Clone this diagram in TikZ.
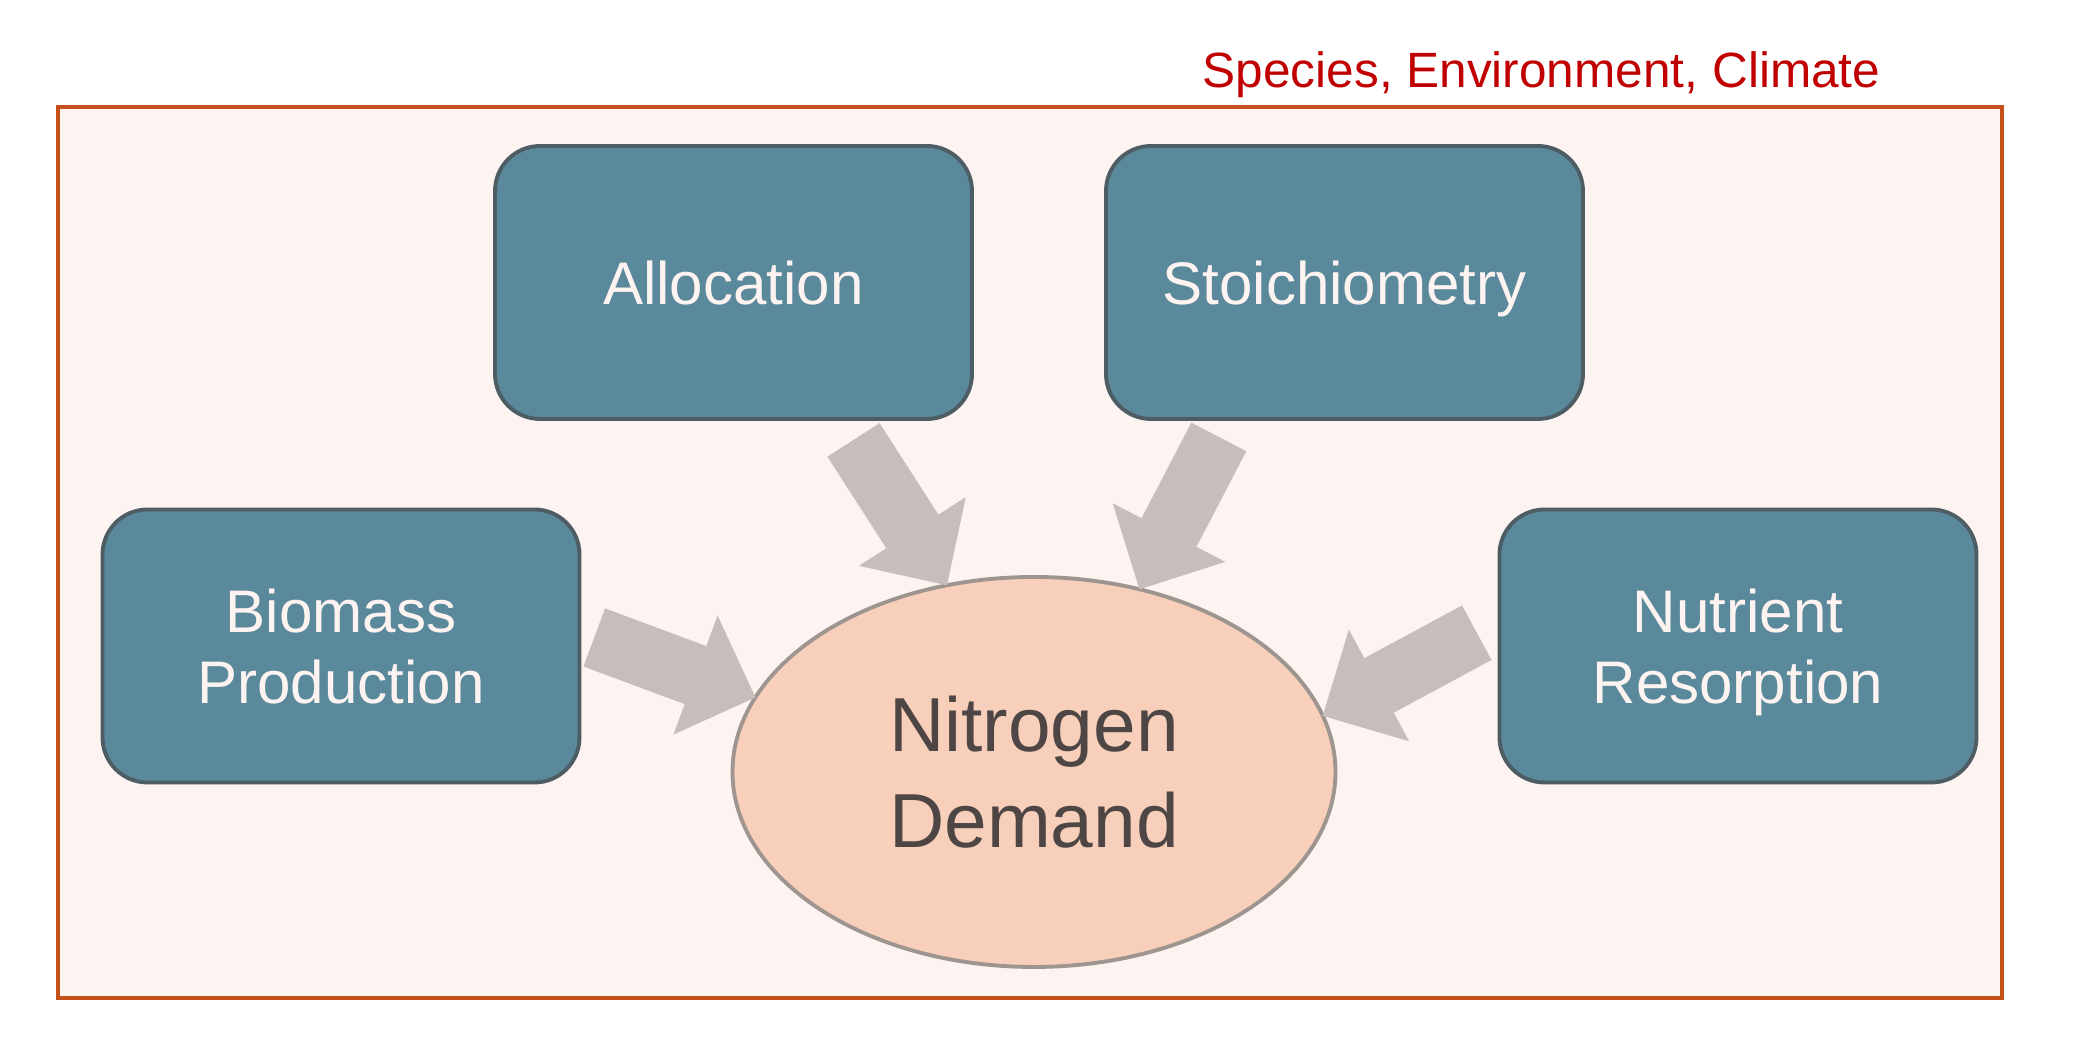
\documentclass[tikz,border=0pt]{standalone}
\usepackage{fontspec}
\setmainfont{Liberation Sans}
\usepackage{tikz}
\usetikzlibrary{arrows.meta, positioning, calc, shapes.geometric}
\usepackage{xcolor}
\definecolor{framered}{HTML}{C5501A}
\definecolor{framefill}{HTML}{FDF4F1}
\definecolor{titlered}{HTML}{C00000}
\definecolor{boxteal}{HTML}{5B899C}
\definecolor{boxedge}{HTML}{4E5C64}
\definecolor{boxtext}{HTML}{FDF3F0}
\definecolor{peach}{HTML}{F7CFBA}
\definecolor{peachedge}{HTML}{9E9490}
\definecolor{demandtext}{HTML}{4D4644}
\definecolor{arrowgray}{HTML}{C7BEBB}

\begin{document}
\begin{tikzpicture}[
    box/.style={draw=boxedge, line width=1.1pt, fill=boxteal, rounded corners=0.45cm,
                minimum width=4.77cm, minimum height=2.73cm, align=center,
                text=boxtext, text depth=0pt, font=\fontsize{17.1}{20.2}\selectfont},
    bigarr/.style={draw=arrowgray, line width=0.62cm,
                   -{Triangle[length=0.64cm, width=1.27cm, line width=0pt]}}
  ]
    \useasboundingbox (0,0) rectangle (21,10.37);
    \node[draw=framered, line width=1.3pt, fill=framefill, minimum width=19.44cm,
          minimum height=8.91cm, inner sep=0pt, outer sep=0pt] (frame) at (10.30, 4.845) {};
    \node[anchor=base east, inner sep=0pt, text=titlered, font=\fontsize{14.1}{16}\selectfont]
      (title) at (18.81, 9.49) {Species, Environment, Climate};
    % factors
    \node[box] (alloc) at (7.335, 7.545) {Allocation};
    \node[box] (stoich) at (13.445, 7.545) {Stoichiometry};
    \node[box] (biomass) at (3.41, 3.91) {Biomass\\Production};
    \node[box] (nutrient) at (17.38, 3.91) {Nutrient\\Resorption};
    \node[ellipse, draw=peachedge, line width=1.1pt, fill=peach, minimum width=6.03cm,
          minimum height=3.90cm, inner sep=0pt, outer sep=0pt, align=center, text=demandtext,
          text depth=0pt, font=\fontsize{21.8}{27.3}\selectfont]
      (demand) at (10.34, 2.65) {Nitrogen\\Demand};
    \draw[bigarr] ($(alloc.south)+(1.20,-0.19)$) -- (demand.115);
    \draw[bigarr] ($(stoich.south)+(-1.257,-0.16)$) -- (demand.60);
    \draw[bigarr] ($(biomass.east)+(0.128,0.085)$) -- (demand.165);
    \draw[bigarr] ($(nutrient.west)+(-0.208,0.133)$) -- (demand.11);
\end{tikzpicture}
\end{document}
